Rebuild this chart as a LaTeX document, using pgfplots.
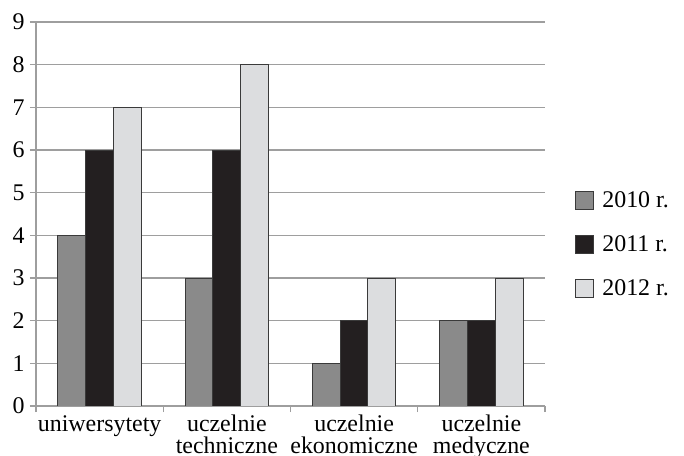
\documentclass[border=0pt]{standalone}
\usepackage{pgfplots}
\pgfplotsset{compat=1.18}
\usepackage{fontspec}
\setmainfont{Liberation Serif}

\definecolor{barA}{HTML}{8A8A8A}
\definecolor{barB}{HTML}{231F20}
\definecolor{barC}{HTML}{DCDDDF}
\definecolor{edge}{HTML}{3A3A3A}
\definecolor{gridc}{HTML}{9E9E9E}

\begin{document}
\begin{tikzpicture}
\path[use as bounding box] (0,0) rectangle (342bp,228bp);
\begin{axis}[
  scale only axis,
  width=254.5bp, height=192bp,
  anchor=south west, at={(18bp,25bp)},
  font=\fontsize{12}{11}\selectfont,
  /pgf/number format/assume math mode=true,
  xmin=-0.5, xmax=3.5,
  ymin=0, ymax=9,
  ytick={0,...,9},
  xtick={0,1,2,3},
  xticklabels={uniwersytety, uczelnie\\techniczne, uczelnie\\ekonomiczne, uczelnie\\medyczne},
  xticklabel style={align=center, text depth=0pt, inner sep=1.5bp},
  yticklabel style={inner sep=2.5bp},
  major x tick style={draw=none},
  minor xtick={-0.5,0.5,1.5,2.5,3.5},
  tick align=outside,
  major tick length=3bp,
  minor tick length=3bp,
  tick style={gridc, line width=0.7bp},
  ymajorgrids,
  grid style={gridc, line width=0.7bp},
  axis line style={gridc, line width=0.7bp},
  axis x line*=bottom,
  axis y line*=left,
  ybar,
  bar width=0.22,
  legend style={draw=none, fill=none, at={(1,0.42)}, anchor=west, xshift=12bp,
    row sep=8.5bp, font=\fontsize{12}{12}\selectfont,
    nodes={inner xsep=4bp}},
  legend cell align=left,
  legend image code/.code={\draw[#1, draw=edge, line width=0.5bp] (0bp,-4.5bp) rectangle (9bp,4.5bp);},
]
\addplot[fill=barA, draw=edge, line width=0.5bp, bar shift=-0.218] coordinates {(0,4) (1,3) (2,1) (3,2)};
\addplot[fill=barB, draw=edge, line width=0.5bp, bar shift=0] coordinates {(0,6) (1,6) (2,2) (3,2)};
\addplot[fill=barC, draw=edge, line width=0.5bp, bar shift=0.218] coordinates {(0,7) (1,8) (2,3) (3,3)};
\legend{2010 r., 2011 r., 2012 r.}
\end{axis}
\end{tikzpicture}
\end{document}
